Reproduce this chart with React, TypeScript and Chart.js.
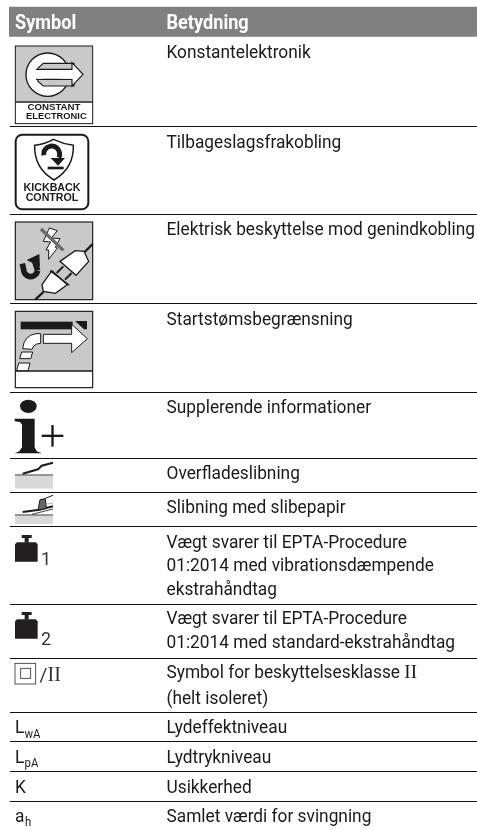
import React, { useEffect, useRef } from "react";
import { Chart, registerables } from "chart.js";

Chart.register(...registerables);

const headerLabels = ["Symbol", "Betydning"];
const ruleValues = [126.5, 214.5, 303.5, 392.5, 458.5, 492.5, 526.5, 604.5, 658.5, 712.5, 741.5, 771.5, 801.5];
const meaningLines = [
  "Konstantelektronik",
  "Tilbageslagsfrakobling",
  "Elektrisk beskyttelse mod genindkobling",
  "Startstømsbegrænsning",
  "Supplerende informationer",
  "Overfladeslibning",
  "Slibning med slibepapir",
  "Vægt svarer til EPTA-Procedure",
  "01:2014 med vibrationsdæmpende",
  "ekstrahåndtag",
  "Vægt svarer til EPTA-Procedure",
  "01:2014 med standard-ekstrahåndtag",
  "Symbol for beskyttelsesklasse ",
  "(helt isoleret)",
  "Lydeffektniveau",
  "Lydtrykniveau",
  "Usikkerhed",
  "Samlet værdi for svingning",
];
const meaningBaselines = [58, 148, 235, 325, 413, 479, 513, 548, 571, 595, 624, 648, 678, 704, 733, 763, 793, 822];
const bandValue = 21.8;

const BODY = "Roboto, 'Noto Sans', sans-serif";
const INK = "#1a1a1a";
const GREY = "#c9c9c9";
const BODY_SX = 0.91;

function txt(c: CanvasRenderingContext2D, s: string, x: number, y: number, font: string, color = INK, sx = BODY_SX) {
  c.save();
  c.font = font;
  c.fillStyle = color;
  c.textAlign = "left";
  c.textBaseline = "alphabetic";
  c.translate(x, y);
  c.scale(sx, 1);
  c.fillText(s, 0, 0);
  c.restore();
}

function poly(c: CanvasRenderingContext2D, pts: number[][], fill?: string, stroke?: string, lw = 3) {
  c.beginPath();
  pts.forEach((p, i) => (i ? c.lineTo(p[0], p[1]) : c.moveTo(p[0], p[1])));
  c.closePath();
  if (fill) { c.fillStyle = fill; c.fill(); }
  if (stroke) { c.strokeStyle = stroke; c.lineWidth = lw; c.stroke(); }
}

function seg(c: CanvasRenderingContext2D, pts: number[][], stroke: string, lw: number) {
  c.beginPath();
  pts.forEach((p, i) => (i ? c.lineTo(p[0], p[1]) : c.moveTo(p[0], p[1])));
  c.strokeStyle = stroke;
  c.lineWidth = lw;
  c.stroke();
}

function ctext(c: CanvasRenderingContext2D, s: string, x: number, y: number, size: number) {
  c.font = `bold ${size}px 'Liberation Sans', Arial, sans-serif`;
  c.fillStyle = INK;
  c.textAlign = "center";
  c.textBaseline = "alphabetic";
  c.fillText(s, x, y);
}

function iconConstant(c: CanvasRenderingContext2D) {
  c.fillStyle = GREY; c.fillRect(16, 12, 232, 166);
  c.fillStyle = "#fff"; c.fillRect(16, 178, 232, 67);
  c.strokeStyle = INK; c.lineWidth = 3; c.strokeRect(16, 12, 232, 233);
  seg(c, [[16, 180], [248, 180]], INK, 5);
  ctext(c, "CONSTANT", 132, 203, 29);
  ctext(c, "ELECTRONIC", 139, 231, 28);
  c.beginPath(); c.arc(113, 98, 65, 0, Math.PI * 2);
  c.fillStyle = "#fff"; c.fill(); c.strokeStyle = INK; c.lineWidth = 4; c.stroke();
  poly(c, [[100, 64], [192, 64], [192, 132], [100, 132], [84, 118], [80, 98], [84, 78]], GREY, INK, 3.5);
  poly(c, [[80, 82], [186, 82], [186, 62], [219, 97], [186, 132], [186, 112], [80, 112]], "#fff", INK, 3.5);
  c.fillStyle = "#fff"; c.fillRect(72, 84, 26, 26);
  c.fillRect(150, 84, 44, 26);
}

function iconKickback(c: CanvasRenderingContext2D) {
  c.beginPath(); c.roundRect(17, 14, 218, 224, 20);
  c.fillStyle = "#fff"; c.fill(); c.strokeStyle = INK; c.lineWidth = 6; c.stroke();
  c.beginPath();
  c.moveTo(74, 46);
  c.quadraticCurveTo(105, 42, 130, 28);
  c.quadraticCurveTo(160, 42, 190, 46);
  c.quadraticCurveTo(192, 115, 132, 150);
  c.quadraticCurveTo(72, 115, 74, 46);
  c.closePath();
  c.strokeStyle = INK; c.lineWidth = 4.5; c.stroke();
  c.beginPath(); c.arc(125, 72, 24, Math.PI * 0.95, Math.PI * 2.15);
  c.lineWidth = 15; c.stroke();
  poly(c, [[122, 84], [165, 84], [144, 107]], INK);
  c.fillStyle = "#fff"; c.beginPath(); c.arc(125, 72, 6, 0, Math.PI * 2); c.fill();
  c.fillStyle = INK; c.fillRect(113, 110, 48, 8);
  ctext(c, "KICKBACK", 126, 182, 32);
  ctext(c, "CONTROL", 126, 212, 32);
}

function iconPlug(c: CanvasRenderingContext2D) {
  c.fillStyle = GREY; c.fillRect(16, 12, 232, 233);
  c.strokeStyle = INK; c.lineWidth = 3.5; c.strokeRect(16, 12, 232, 233);
  poly(c, [[118, 30], [142, 38], [124, 60], [150, 62], [136, 88], [142, 90], [116, 124], [116, 96], [108, 96], [122, 72], [100, 70]], "#fff", INK, 3);
  seg(c, [[93, 33], [160, 97]], "#6a6a6a", 10);
  c.beginPath(); c.arc(62, 155, 21, Math.PI * 0.05, Math.PI * 1.05);
  c.strokeStyle = INK; c.lineWidth = 17; c.stroke();
  seg(c, [[41, 155], [37, 137]], INK, 17);
  seg(c, [[83, 158], [74, 130]], INK, 17);
  poly(c, [[50, 126], [88, 108], [90, 146]], INK);
  poly(c, [[150, 130], [196, 98], [222, 100], [236, 130], [198, 172]], "#fff", INK, 4);
  seg(c, [[224, 102], [248, 78]], INK, 7);
  poly(c, [[126, 158], [172, 200], [136, 226], [100, 220], [96, 200]], "#fff", INK, 4);
  seg(c, [[120, 158], [178, 202]], INK, 4);
  seg(c, [[140, 165], [160, 145]], INK, 6);
  seg(c, [[165, 185], [185, 165]], INK, 6);
  seg(c, [[100, 222], [76, 245]], INK, 7);
}

function iconStart(c: CanvasRenderingContext2D) {
  c.fillStyle = GREY; c.fillRect(16, 16, 232, 179);
  c.fillStyle = "#fff"; c.fillRect(16, 195, 232, 50);
  c.strokeStyle = INK; c.lineWidth = 3.5; c.strokeRect(16, 16, 232, 229);
  seg(c, [[16, 195], [248, 195]], INK, 5);
  c.fillStyle = INK; c.fillRect(32, 47, 156, 23);
  poly(c, [[195, 45], [231, 45], [231, 70], [222, 70]], INK);
  poly(c, [[100, 85], [185, 85], [185, 55], [232, 98], [185, 140], [185, 112], [100, 112]], "#fff", INK, 3);
  c.beginPath();
  c.moveTo(38, 128);
  c.quadraticCurveTo(42, 88, 78, 83);
  c.lineTo(92, 83); c.lineTo(92, 112); c.lineTo(80, 114);
  c.quadraticCurveTo(70, 118, 66, 130);
  c.closePath();
  c.fillStyle = "#fff"; c.fill(); c.strokeStyle = INK; c.lineWidth = 3; c.stroke();
  poly(c, [[35, 138], [68, 138], [62, 158], [29, 158]], "#fff", INK, 3);
  poly(c, [[26, 171], [60, 171], [54, 194], [20, 194]], "#fff", INK, 3);
}

function iconInfo(c: CanvasRenderingContext2D) {
  c.fillStyle = INK;
  c.beginPath(); c.ellipse(55, 37, 25, 20, 0, 0, Math.PI * 2); c.fill();
  poly(c, [[14, 74], [74, 74], [74, 160], [80, 172], [96, 178], [14, 178], [28, 172], [36, 160], [36, 92], [30, 84], [14, 82]], INK);
  c.fillRect(95, 122, 65, 7);
  c.fillRect(124, 93, 7, 65);
}

function iconSurface(c: CanvasRenderingContext2D) {
  c.fillStyle = "#d9d9d9"; c.fillRect(15, 47, 114, 40);
  seg(c, [[15, 46], [129, 46]], "#777", 4);
  seg(c, [[38, 42], [84, 29], [95, 18], [129, 9]], INK, 6);
}

function iconPaper(c: CanvasRenderingContext2D) {
  c.fillStyle = "#d9d9d9"; c.fillRect(15, 65, 114, 26);
  seg(c, [[15, 64], [129, 64]], "#777", 4);
  seg(c, [[38, 55], [88, 48], [129, 38]], INK, 6);
  seg(c, [[66, 62], [129, 46]], INK, 2.5);
  poly(c, [[90, 18], [106, 15], [109, 44], [84, 50]], "#666", INK, 3);
  seg(c, [[106, 14], [129, 5]], INK, 3);
  seg(c, [[106, 32], [129, 28]], "#888", 2);
}

function iconWeight(c: CanvasRenderingContext2D) {
  c.fillStyle = "#231f20";
  c.fillRect(20, 0, 30, 9);
  c.fillRect(29, 9, 12, 14);
  poly(c, [[6, 22], [62, 22], [68, 28], [68, 80], [0, 80], [0, 28]], "#231f20");
}

function iconClass(c: CanvasRenderingContext2D) {
  c.strokeStyle = "#333"; c.lineWidth = 2.5; c.strokeRect(45, 340, 62, 62);
  c.lineWidth = 2.5; c.strokeRect(62, 355, 30, 30);
}

const tablePlugin = {
  id: "tableText",
  afterDatasetsDraw(chart: any) {
    const c: CanvasRenderingContext2D = chart.ctx;
    const X = (v: number) => chart.scales.x.getPixelForValue(v);
    const Y = (v: number) => chart.scales.y.getPixelForValue(v);
    c.save();
    const hf = `bold 19.5px ${BODY}`;
    txt(c, headerLabels[0], X(15), Y(28.5), hf, "#fff", 0.93);
    txt(c, headerLabels[1], X(166.5), Y(28.5), hf, "#fff", 0.93);
    const f = `19px ${BODY}`;
    meaningLines.forEach((s, i) => txt(c, s, X(166.5), Y(meaningBaselines[i]), f));
    c.font = f;
    const w = c.measureText(meaningLines[12]).width * BODY_SX;
    txt(c, "II", X(166.5) + w, Y(678), "19px 'Liberation Serif', serif", INK, 1);

    const at = (ox: number, oy: number, fn: (c: CanvasRenderingContext2D) => void) => {
      c.save();
      c.translate(X(ox), Y(oy));
      c.scale(1 / 3, 1 / 3);
      fn(c);
      c.restore();
    };
    at(10, 42, iconConstant);
    at(10, 130, iconKickback);
    at(10, 218, iconPlug);
    at(10, 306, iconStart);
    at(10, 394, iconInfo);
    at(10, 459.67, iconSurface);
    at(10, 493.67, iconPaper);
    at(15, 535, iconWeight);
    at(15, 612, iconWeight);
    at(0, 550, iconClass);

    txt(c, "1", X(41), Y(564.5), `18px ${BODY}`, "#333", 1);
    txt(c, "2", X(41), Y(645), `18px ${BODY}`, "#333", 1);
    txt(c, "/", X(39.5), Y(681), `19px ${BODY}`, "#333", 1);
    txt(c, "II", X(47.5), Y(681), "20px 'Liberation Serif', serif", "#333", 1);
    txt(c, "L", X(15), Y(733), f);
    txt(c, "wA", X(24.5), Y(738), `12.5px ${BODY}`);
    txt(c, "L", X(15), Y(763), f);
    txt(c, "pA", X(24.5), Y(767), `12.5px ${BODY}`);
    txt(c, "K", X(15), Y(793), f);
    txt(c, "a", X(15), Y(822), f);
    txt(c, "h", X(25), Y(826), `12.5px ${BODY}`);
    c.restore();
  },
};

export default function App() {
  const ref = useRef<HTMLCanvasElement>(null);
  useEffect(() => {
    document.body.style.margin = "0";
    const datasets: any[] = [
      {
        data: [{ x: 9, y: bandValue }, { x: 477, y: bandValue }],
        borderColor: "#808080",
        borderWidth: 30,
        showLine: true,
        pointRadius: 0,
      },
      ...ruleValues.map((v) => ({
        data: [{ x: 10, y: v }, { x: 477, y: v }],
        borderColor: "#111",
        borderWidth: 1,
        showLine: true,
        pointRadius: 0,
      })),
    ];
    const chart = new Chart(ref.current as HTMLCanvasElement, {
      type: "scatter",
      data: { datasets },
      options: {
        responsive: false,
        animation: false,
        layout: { padding: 0 },
        plugins: { legend: { display: false }, tooltip: { enabled: false }, title: { display: false } },
        scales: {
          x: { type: "linear", min: 0, max: 477, display: false },
          y: { type: "linear", min: 0, max: 830, reverse: true, display: false },
        },
      },
      plugins: [tablePlugin],
    } as any);
    return () => chart.destroy();
  }, []);
  return <canvas ref={ref} width={477} height={830} style={{ display: "block", background: "#fff" }} />;
}
